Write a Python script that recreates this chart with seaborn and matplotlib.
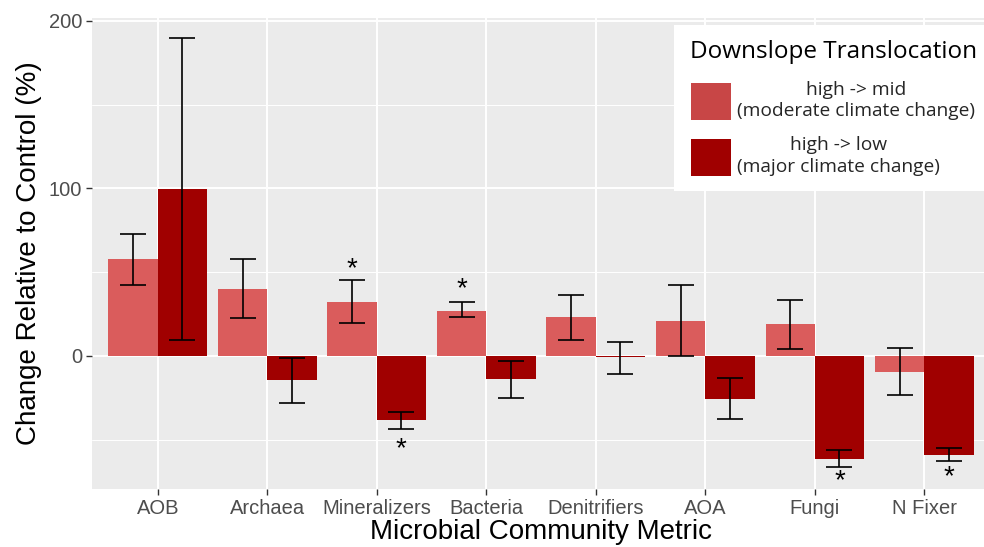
import matplotlib
matplotlib.use("Agg")
import numpy as np
import pandas as pd
import seaborn as sns
import matplotlib.pyplot as plt
from matplotlib.patches import Patch

# Percent change relative to control, per community metric and translocation
metrics = ["AOB", "Archaea", "Mineralizers", "Bacteria",
           "Denitrifiers", "AOA", "Fungi", "N Fixer"]
treatments = ["high -> mid\n(moderate climate change)",
              "high -> low\n(major climate change)"]

mid_change = [58, 40, 32, 27, 23, 21, 19, -9.5]
mid_lower = [42.5, 22.5, 19.5, 23, 9.5, 0.2, 4, -23.5]
mid_upper = [73, 58, 45, 32, 36.5, 42, 33.5, 4.5]

low_change = [99.5, -14.5, -38.5, -14, -0.8, -25.5, -61.5, -59]
low_lower = [9.5, -28, -43.5, -25, -11, -37.5, -66.5, -63]
low_upper = [189.5, -1.5, -33.5, -3, 8, -13.5, -56.5, -55]

# significance markers (y position of the asterisk, None = not significant)
mid_star = [None, None, 51.5, 39.5, None, None, None, None]
low_star = [None, None, -55.5, None, None, None, -75, -72.5]

mid_col = "#DA5C5C"
low_col = "#A00000"
mid_key_col = "#C84646"

df = pd.DataFrame({
    "metric": metrics * 2,
    "change": mid_change + low_change,
    "treatment": [treatments[0]] * len(metrics) + [treatments[1]] * len(metrics),
})

sns.set_theme(style="darkgrid")
plt.rcParams["font.family"] = ["Liberation Sans", "DejaVu Sans"]

fig = plt.figure(figsize=(9.84, 5.47), dpi=100)
W, H = 984, 547
ax = fig.add_axes([92 / W, 1 - 489 / H, (990 - 92) / W, (489 - 17.5) / H])

sns.barplot(data=df, x="metric", y="change", hue="treatment", order=metrics,
            hue_order=treatments, palette=[mid_col, low_col], width=0.9,
            errorbar=None, saturation=1, legend=False, ax=ax, linewidth=0)

series = [(mid_change, mid_lower, mid_upper, mid_star),
          (low_change, low_lower, low_upper, low_star)]
for container, (vals, lo, hi, stars) in zip(ax.containers, series):
    xs = np.array([b.get_x() + b.get_width() / 2 for b in container])
    vals = np.array(vals); lo = np.array(lo); hi = np.array(hi)
    ax.errorbar(xs, vals, yerr=[vals - lo, hi - vals], fmt="none",
                ecolor="black", elinewidth=1.2, capsize=9.7, capthick=1.2,
                zorder=4)
    for x, s in zip(xs, stars):
        if s is not None:
            ax.text(x, s, "*", ha="center", va="center", fontsize=20,
                    color="black", zorder=5)

ax.set_facecolor("#EBEBEB")
ax.set_xlim(-0.6, 7.6)
ax.set_ylim(-79.5, 202)
ax.set_yticks([0, 100, 200])
ax.set_yticks([-50, 50, 150], minor=True)
ax.grid(True, which="major", color="white", linewidth=1.4)
ax.grid(True, which="minor", axis="y", color="white", linewidth=0.7)
ax.set_axisbelow(True)
for sp in ax.spines.values():
    sp.set_visible(False)

ax.tick_params(axis="both", which="major", length=4, width=1.0,
               color="#333333", labelsize=14.5, labelcolor="#4D4D4D", pad=3,
               bottom=True, left=True)
ax.tick_params(axis="y", which="minor", length=0)

ax.set_xlabel("Microbial Community Metric", fontsize=20, color="black",
              labelpad=1)
ax.set_ylabel("Change Relative to Control (%)", fontsize=20, color="black",
              labelpad=5)

handles = [Patch(facecolor=mid_key_col, edgecolor="none"),
           Patch(facecolor=low_col, edgecolor="none")]
leg = fig.legend(handles=handles, labels=treatments,
                 title="Downslope Translocation",
                 loc="upper right", bbox_to_anchor=(992 / W, 1 - 25 / H),
                 frameon=True, fancybox=False, framealpha=1,
                 facecolor="white", edgecolor="none",
                 prop={"family": ["Open Sans", "DejaVu Sans"], "size": 13.8},
                 title_fontproperties={"family": ["Open Sans", "DejaVu Sans"],
                                       "size": 17.5},
                 handlelength=2.1, handleheight=2.6, handletextpad=0.3,
                 labelspacing=0.85, borderpad=0.8, borderaxespad=0)
for t in leg.get_texts():
    t.set_multialignment("center")
    t.set_linespacing(1.25)
leg.get_title().set_color("black")

fig.savefig("out.png", dpi=100, facecolor="white")
